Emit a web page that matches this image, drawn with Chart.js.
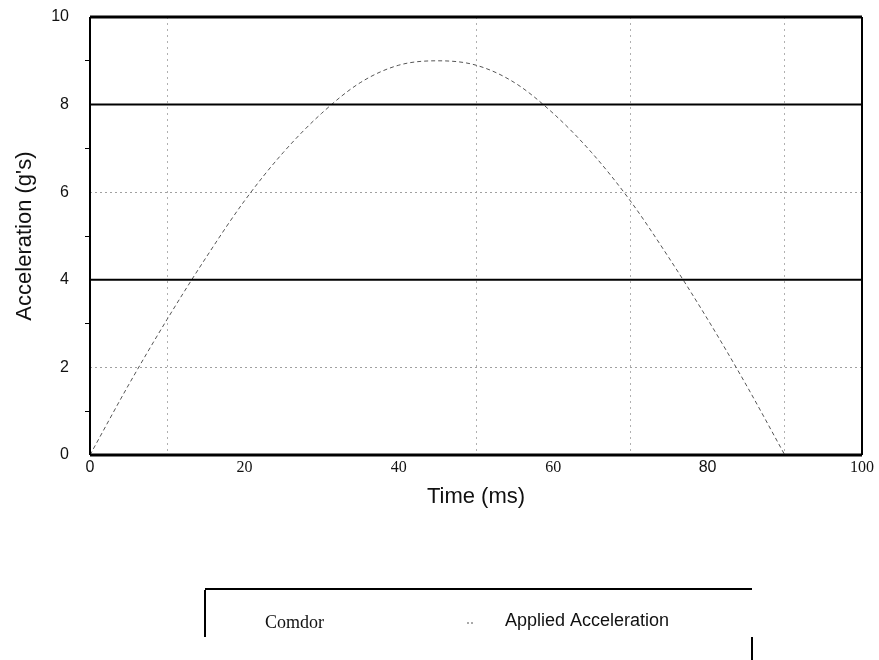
<!DOCTYPE html>
<html>
<head>
<meta charset="utf-8">
<script src="https://cdn.jsdelivr.net/npm/chart.js@4/dist/chart.umd.min.js"></script>
<style>
  html, body { margin: 0; padding: 0; background: #fff; }
  #wrap { width: 879px; height: 660px; }
</style>
</head>
<body>
<div id="wrap"><canvas id="accelChart" width="879" height="660"></canvas></div>
<script>
// data
const timeMs = [0, 5, 10, 15, 20, 25, 30, 35, 40, 45, 50, 55, 60, 65, 70, 75, 80, 85, 90];
const appliedG = [0, 1.6, 3.1, 4.5, 5.8, 6.9, 7.8, 8.5, 8.9, 9.0, 8.9, 8.5, 7.8, 6.9, 5.8, 4.5, 3.1, 1.6, 0];
const corridorUpper = 8;
const corridorLower = 4;
const xTickLabels = [0, 20, 40, 60, 80, 100];
const yTickLabels = [0, 2, 4, 6, 8, 10];
const xGridShown = [10, 50, 70, 90];
const seriesNames = ["Comdor", "Applied Acceleration"];

document.addEventListener("DOMContentLoaded", function () {
  const ctx = document.getElementById("accelChart").getContext("2d");

  const corridorPts = [
    { x: 0, y: corridorUpper }, { x: 100, y: corridorUpper }, { x: 100, y: null },
    { x: 0, y: corridorLower }, { x: 100, y: corridorLower }
  ];
  const appliedPts = timeMs.map((t, i) => ({ x: t, y: appliedG[i] }));

  // frame + custom legend like the old printout
  const framePlugin = {
    id: "frame",
    afterDatasetsDraw(chart) {
      const a = chart.chartArea;
      const c = chart.ctx;
      c.save();
      c.strokeStyle = "#000";
      c.lineWidth = 3;
      c.beginPath();
      c.moveTo(a.left, a.top); c.lineTo(a.right, a.top);
      c.moveTo(a.left, a.bottom); c.lineTo(a.right, a.bottom);
      c.stroke();
      c.lineWidth = 2;
      c.beginPath();
      c.moveTo(a.left, a.top); c.lineTo(a.left, a.bottom);
      c.moveTo(a.right, a.top); c.lineTo(a.right, a.bottom);
      c.stroke();
      c.restore();
    },
    afterDraw(chart) {
      const c = chart.ctx;
      const ds = chart.data.datasets;
      c.save();
      c.strokeStyle = "#000";
      c.lineWidth = 2;
      c.beginPath();
      c.moveTo(205, 589); c.lineTo(752, 589);
      c.moveTo(205, 590); c.lineTo(205, 637);
      c.moveTo(752, 637); c.lineTo(752, 660);
      c.stroke();

      c.fillStyle = "#111";
      c.textBaseline = "middle";
      c.font = "18px 'Liberation Serif', serif";
      c.fillText(ds[0].label, 265, 623);

      // tiny dashed marker for the applied curve
      c.strokeStyle = ds[1].borderColor;
      c.lineWidth = 1;
      c.setLineDash([2, 2]);
      c.beginPath();
      c.moveTo(467, 623); c.lineTo(475, 623);
      c.stroke();
      c.setLineDash([]);

      c.font = "18px 'Liberation Sans', Arial, sans-serif";
      c.fillText(ds[1].label, 505, 621);
      c.restore();
    }
  };

  const config = {
    type: "scatter",
    data: {
      datasets: [
        {
          label: seriesNames[0],
          data: corridorPts,
          showLine: true,
          spanGaps: false,
          borderColor: "#000",
          borderWidth: 2,
          pointRadius: 0
        },
        {
          label: seriesNames[1],
          data: appliedPts,
          showLine: true,
          borderColor: "#555",
          borderWidth: 1,
          borderDash: [4, 3],
          cubicInterpolationMode: "monotone",
          pointRadius: 0
        }
      ]
    },
    options: {
      responsive: false,
      animation: false,
      layout: { padding: { top: 17, right: 17, bottom: 150, left: 0 } },
      plugins: {
        legend: { display: false },
        tooltip: { enabled: false }
      },
      scales: {
        x: {
          type: "linear",
          min: 0,
          max: 100,
          afterFit: (s) => { s.height = 55; s.paddingLeft = 0; s.paddingRight = 0; },
          ticks: {
            stepSize: 10,
            autoSkip: false,
            maxRotation: 0,
            padding: 3,
            color: "#111",
            callback: (v) => (xTickLabels.includes(v) ? String(v) : ""),
            font: (c) => {
              const v = c.tick ? c.tick.value : 0;
              const sans = v === 0 || v === 80;
              return { size: 16, family: sans ? "'Liberation Sans', Arial, sans-serif" : "'Liberation Serif', serif" };
            }
          },
          grid: {
            drawTicks: false,
            lineWidth: 1,
            color: (c) => (c.tick && xGridShown.includes(c.tick.value) ? "#b0b0b0" : "rgba(0,0,0,0)")
          },
          border: { display: false, dash: [2, 4] },
          title: {
            display: true,
            text: "Time (ms)",
            color: "#111",
            padding: { top: 4, bottom: 0 },
            font: { size: 22, family: "'Liberation Sans', Arial, sans-serif" }
          }
        },
        y: {
          min: 0,
          max: 10,
          afterFit: (s) => { s.width = 90; s.paddingTop = 0; s.paddingBottom = 0; },
          ticks: {
            stepSize: 1,
            autoSkip: false,
            padding: 16,
            color: "#111",
            callback: (v) => (yTickLabels.includes(v) ? String(v) : ""),
            font: { size: 16, family: "'Liberation Sans', Arial, sans-serif" }
          },
          grid: {
            drawTicks: true,
            tickLength: 5,
            tickColor: (c) => (c.tick && c.tick.value % 2 === 1 ? "#000" : "rgba(0,0,0,0)"),
            color: (c) => (c.tick && (c.tick.value === 2 || c.tick.value === 6) ? "#a0a0a0" : "rgba(0,0,0,0)")
          },
          border: { display: false, dash: [2, 3] },
          title: {
            display: true,
            text: "Acceleration (g's)",
            color: "#111",
            padding: { top: 12, bottom: 0 },
            font: { size: 22, family: "'Liberation Sans', Arial, sans-serif" }
          }
        }
      }
    },
    plugins: [framePlugin]
  };

  const accelChart = new Chart(ctx, config);
});
</script>
</body>
</html>
